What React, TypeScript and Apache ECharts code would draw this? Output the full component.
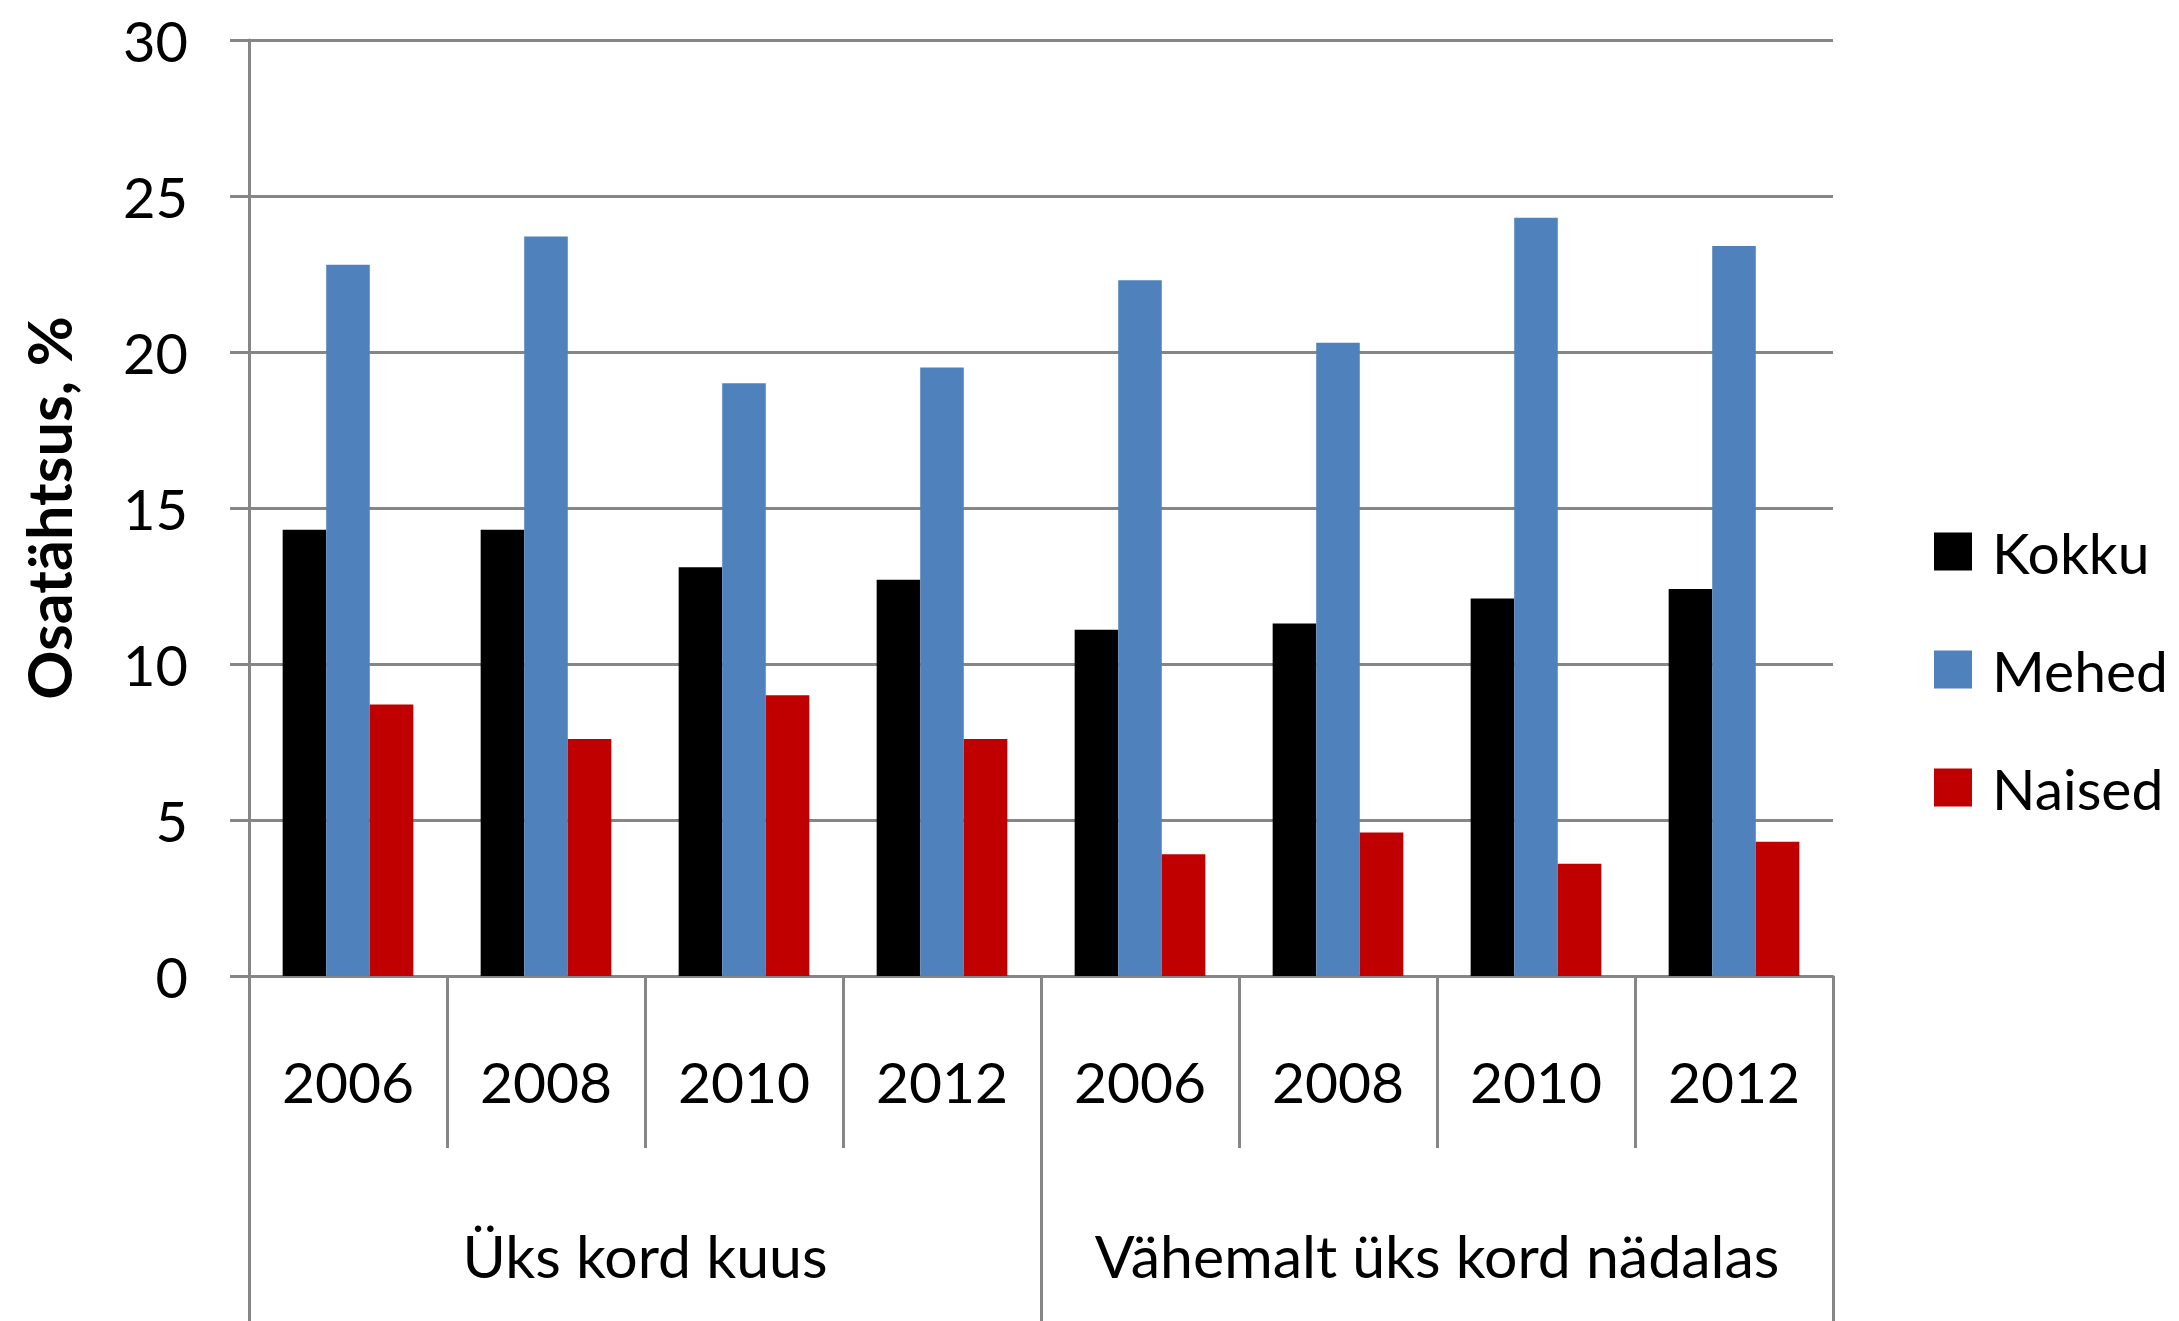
import React, { useEffect, useRef } from "react";
import * as echarts from "echarts";

const years = ["2006", "2008", "2010", "2012", "2006", "2008", "2010", "2012"];
const groups = ["Üks kord kuus", "Vähemalt üks kord nädalas"];
const seriesNames = ["Kokku", "Mehed", "Naised"];
const kokku = [14.3, 14.3, 13.1, 12.7, 11.1, 11.3, 12.1, 12.4];
const mehed = [22.8, 23.7, 19.0, 19.5, 22.3, 20.3, 24.3, 23.4];
const naised = [8.7, 7.6, 9.0, 7.6, 3.9, 4.6, 3.6, 4.3];
const yTicks = { min: 0, max: 30, interval: 5 };
const colors = ["#000000", "#4F81BD", "#C00000"];

const FONT = "Lato";
const GRID_COLOR = "#868686";

export default function App() {
  const ref = useRef<HTMLDivElement>(null);
  useEffect(() => {
    if (!ref.current) return;
    const chart = echarts.init(ref.current, null, { renderer: "svg" });
    const values = [kokku, mehed, naised];
    chart.setOption({
      animation: false,
      backgroundColor: "#ffffff",
      textStyle: { fontFamily: FONT },
      grid: { left: 249, right: 346, top: 40, bottom: 345 },
      legend: {
        orient: "vertical",
        left: 1929,
        top: 518,
        itemWidth: 38,
        itemHeight: 38,
        itemGap: 61,
        icon: "rect",
        data: seriesNames,
        textStyle: {
          fontFamily: FONT,
          fontSize: 57,
          color: "#000",
          lineHeight: 38,
          padding: [0, 0, 0, 15],
        },
      },
      xAxis: [
        {
          type: "category",
          data: years,
          position: "bottom",
          axisLine: { show: true, lineStyle: { color: GRID_COLOR, width: 3 } },
          axisTick: {
            show: true,
            interval: 0,
            length: 172,
            lineStyle: { color: GRID_COLOR, width: 3 },
          },
          axisLabel: {
            interval: 0,
            margin: 76,
            fontSize: 57,
            lineHeight: 57,
            color: "#000",
            fontFamily: FONT,
          },
        },
        {
          type: "category",
          data: groups,
          position: "bottom",
          axisLine: { show: false },
          axisTick: {
            show: true,
            interval: 0,
            length: 346,
            lineStyle: { color: GRID_COLOR, width: 3 },
          },
          axisLabel: {
            interval: 0,
            margin: 250,
            fontSize: 59,
            lineHeight: 59,
            color: "#000",
            fontFamily: FONT,
          },
        },
      ],
      yAxis: {
        type: "value",
        min: yTicks.min,
        max: yTicks.max,
        interval: yTicks.interval,
        name: "Osatähtsus, %",
        nameLocation: "middle",
        nameGap: 170,
        nameTextStyle: {
          fontFamily: FONT,
          fontSize: 61,
          fontWeight: "bold",
          color: "#000",
        },
        axisLine: { show: true, lineStyle: { color: GRID_COLOR, width: 3 } },
        axisTick: { show: true, length: 19, lineStyle: { color: GRID_COLOR, width: 3 } },
        splitLine: { show: true, lineStyle: { color: GRID_COLOR, width: 3 } },
        axisLabel: {
          margin: 61,
          fontSize: 56,
          color: "#000",
          fontFamily: FONT,
        },
      },
      series: seriesNames.map((name, i) => ({
        name,
        type: "bar",
        xAxisIndex: 0,
        data: values[i],
        barGap: "0%",
        barCategoryGap: "34%",
        itemStyle: { color: colors[i] },
      })),
    });
    return () => chart.dispose();
  }, []);
  return (
    <div
      ref={ref}
      style={{ position: "fixed", left: 0, top: 0, width: 2179, height: 1321 }}
    />
  );
}
